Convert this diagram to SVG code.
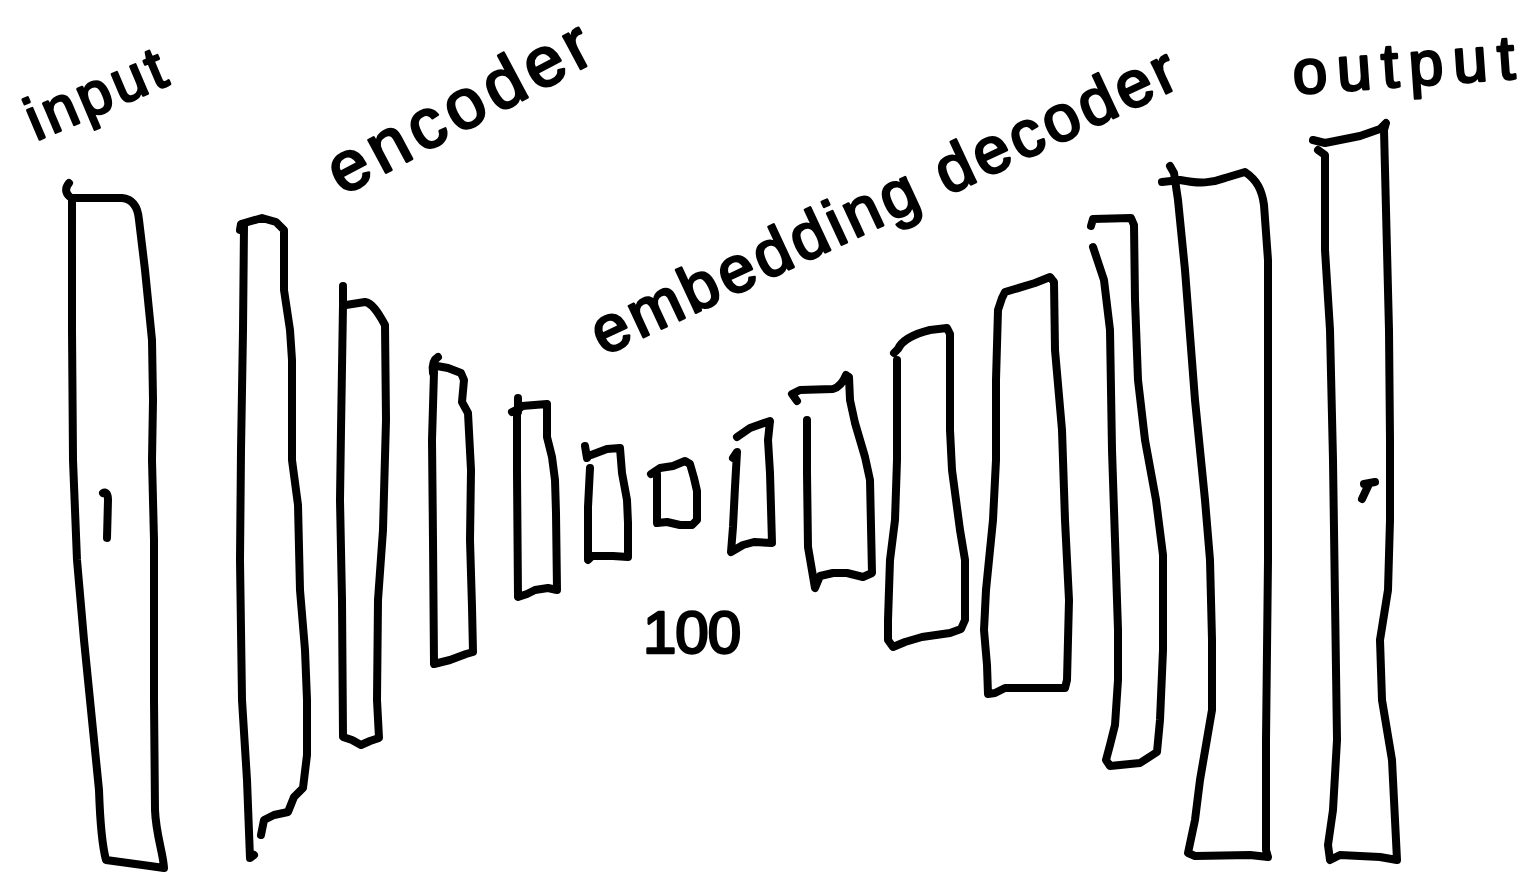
<svg xmlns="http://www.w3.org/2000/svg" width="1538" height="878" viewBox="0 0 1538 878">
<style>
.s{fill:none;stroke:#000;stroke-width:8;stroke-linecap:round;stroke-linejoin:round}
.t{font-family:"Liberation Sans",Arial,sans-serif;fill:#000;stroke:#000;stroke-width:2.6;stroke-linejoin:round}
</style>
<rect width="1538" height="878" fill="#fff"/>
<g id="labels">
<text class="t" font-size="60" letter-spacing="4" transform="translate(36,141) rotate(-23)">input</text>
<text class="t" font-size="70" letter-spacing="6" transform="translate(342,196) rotate(-28)">encoder</text>
<text class="t" font-size="65" letter-spacing="4" transform="translate(603,356) rotate(-25)">embedding decoder</text>
<text class="t" font-size="62" letter-spacing="10" transform="translate(1294,94) rotate(-4)">output</text>
<text class="t" font-size="60" letter-spacing="-1" x="643" y="653">100</text>
</g>
<g id="input-layer">
<path class="s" d="M69,183 C65,188 65,193 70,197"/>
<path class="s" d="M72,198 L122,198 C133,199 138,208 139,220 L145,270 L152,340 L153,400 L152,460 L154,540 L154,700 L155,810 C156,835 163,852 164,868 L150,866 L106,860 C102,845 100,820 99,790 L93,730 L84,640 L77,560 L73,460 L72,330 Z"/>
<path class="s" d="M103,493 C106,491 108,494 108,500 L107,538"/>
</g>
<g id="encoder-1">
<path class="s" d="M240,230 L241,224 L262,218 L276,222 L284,230 L284,290 L290,330 L292,360 L292,460 L298,505 L300,590 L305,650 L307,700 L307,755 L303,788 L294,797 L288,812 L274,815 L264,820 L261,835"/>
<path class="s" d="M244,226 L243,330 L241,450 L240,560 L242,700 L247,780 L250,858 L254,855"/>
</g>
<g id="encoder-2">
<path class="s" d="M343,286 L343,302"/>
<path class="s" d="M346,305 L365,302 C372,303 378,312 385,325 L386,420 L383,530 L378,600 L377,700 L379,738 L370,741 L361,745 L352,740 L343,737 L342,600 L340,500 L341,430 L343,305"/>
</g>
<g id="encoder-3">
<path class="s" d="M438,357 C433,360 432,366 433,373"/>
<path class="s" d="M437,366 L448,368 L461,373 L464,380 L462,402 L468,413 L471,470 L470,540 L472,607 L473,652 L466,654 L450,660 L434,664 L433,540 L432,440 L434,372"/>
</g>
<g id="encoder-4">
<path class="s" d="M518,398 L518,412 M512,412 L520,408"/>
<path class="s" d="M522,406 L547,404 L547,437 L552,457 L555,480 L556,513 L557,590 L548,588 L535,590 L527,594 L518,597 L517,473 L517,412"/>
</g>
<g id="encoder-5">
<path class="s" d="M585,446 L587,458"/>
<path class="s" d="M591,455 L607,449 L620,448 L622,473 L627,500 L628,523 L628,557 L613,556 L592,556 L588,560 L588,507 L590,468"/>
</g>
<g id="embedding">
<path class="s" d="M651,474 L660,468 L673,466 L685,461 L690,464 L694,478 L697,491 L697,520 L692,525 L680,525 L667,522 L657,523 L657,474"/>
</g>
<g id="decoder-1">
<path class="s" d="M737,437 L750,428 L770,421 L768,440 L770,473 L772,543 L754,542 L743,545 L731,552 L733,527 L735,487 L737,452 L733,458"/>
</g>
<g id="decoder-2">
<path class="s" d="M797,401 L792,394 L800,390 L833,389 C840,387 844,380 846,375 L849,377 L850,400 L855,423 L865,457 L870,480 L872,573 L863,577 L847,573 L833,573 L820,576 L815,588 L808,547 L807,473 L807,420"/>
</g>
<g id="decoder-3">
<path class="s" d="M894,353 L898,349 C903,338 918,333 930,330 L947,328 L950,334 L950,430 L952,470 L960,530 L965,560 L965,620 L961,629 L950,633 L922,637 L905,642 L893,647 L888,640 L888,620 L890,560 L895,520 L897,460 L897,360"/>
</g>
<g id="decoder-4">
<path class="s" d="M1002,298 L1005,292 L1035,283 L1050,277 L1054,282 L1055,350 L1062,430 L1065,520 L1069,600 L1067,680 L1065,688 L1005,688 L995,693 L988,694 L987,665 L984,630 L986,590 L993,520 L996,460 L996,380 L998,310 L1002,298"/>
</g>
<g id="decoder-5">
<path class="s" d="M1091,226 L1093,219 L1131,218 L1134,225 L1135,300 L1138,380 L1145,440 L1156,500 L1163,555 L1163,650 L1160,720 L1157,752 L1140,763 L1110,766 L1106,760 L1110,745 L1115,725 L1118,680 L1118,630 L1115,540 L1112,450 L1110,330 L1104,280 L1093,247"/>
</g>
<g id="decoder-6">
<path class="s" d="M1170,166 L1174,173 L1178,200 L1185,270 L1195,400 L1205,500 L1210,560 L1212,640 L1212,710 L1200,780 L1195,820 L1188,853 L1195,856 L1250,855 L1268,857 L1266,850 L1266,740 L1268,560 L1268,400 L1268,260 L1264,205 C1262,190 1257,180 1245,172 L1225,178 C1212,183 1200,184 1180,180 L1162,182"/>
</g>
<g id="output-layer">
<path class="s" d="M1313,140 L1325,143 L1360,136 L1380,129 L1386,123 L1384,130 L1386,210 L1389,330 L1390,440 L1390,520 L1388,590 L1380,640 L1382,700 L1392,760 L1395,820 L1397,860 L1380,857 L1340,855 L1330,860 L1328,845 L1333,810 L1337,740 L1335,600 L1333,460 L1330,330 L1325,250 L1325,155 L1318,150"/>
<path class="s" d="M1364,484 L1375,482 M1369,484 L1362,499"/>
</g>
</svg>
